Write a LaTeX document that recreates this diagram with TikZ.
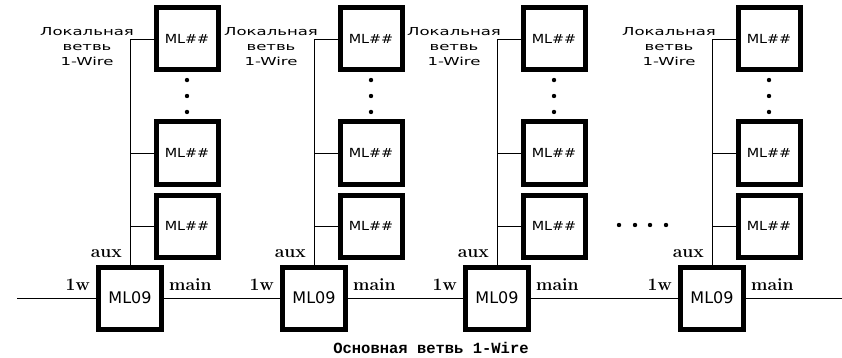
\documentclass[tikz,border=0pt]{standalone}
\usepackage{fontspec}
\setmonofont{Liberation Mono}
\newfontfamily\cadfont{DejaVu Sans}
\newfontfamily\cadmid[FakeStretch=1.15]{DejaVu Sans}
\newfontfamily\cadwide[FakeStretch=1.5]{DejaVu Sans}
\usetikzlibrary{positioning,calc}

\begin{document}
\begin{tikzpicture}[
  x=1pt, y=-1pt,
  modulebox/.style={
    draw,
    line width=5pt,
    inner sep=0pt,
    minimum size=62pt
  },
  hubbox/.style={modulebox,minimum width=63pt,font=\cadfont\fontsize{16}{16}\selectfont},
  leafbox/.style={modulebox,font=\cadmid\fontsize{12.5}{12.5}\selectfont},
  pinlabel/.style={inner sep=0pt,font=\bfseries\fontsize{17.5}{17.5}\selectfont},
  branchlabel/.style={inner sep=0pt,align=center,font=\cadwide\fontsize{11}{15}\selectfont},
  wire/.style={line width=0.8pt}
]
  \useasboundingbox (0,0) rectangle (842,358);

  % main branch modules
  \node[hubbox] (hub1) at (130,298) {ML09};
  \node[hubbox] (hub2) at (314,298) {ML09};
  \node[hubbox] (hub3) at (497,298) {ML09};
  \node[hubbox] (hub4) at (712,298) {ML09};
  \coordinate (start) at (17,298);
  \coordinate (finish) at (842,298);

  % local branch modules
  \node[leafbox,above=5pt of hub1,xshift=57pt] (low1) {ML\#\#};
  \node[leafbox,above=6pt of low1] (mid1) {ML\#\#};
  \node[leafbox,above=47pt of mid1] (top1) {ML\#\#};
  \node[leafbox,above=5pt of hub2,xshift=57pt] (low2) {ML\#\#};
  \node[leafbox,above=6pt of low2] (mid2) {ML\#\#};
  \node[leafbox,above=47pt of mid2] (top2) {ML\#\#};
  \node[leafbox,above=5pt of hub3,xshift=57pt] (low3) {ML\#\#};
  \node[leafbox,above=6pt of low3] (mid3) {ML\#\#};
  \node[leafbox,above=47pt of mid3] (top3) {ML\#\#};
  \node[leafbox,above=5pt of hub4,xshift=57pt] (low4) {ML\#\#};
  \node[leafbox,above=6pt of low4] (mid4) {ML\#\#};
  \node[leafbox,above=47pt of mid4] (top4) {ML\#\#};

  % port labels
  \node[pinlabel,above left=7pt and 8pt of hub1.north] (aux1) {aux};
  \node[pinlabel,above left=7pt and 6pt of hub1.west] (in1) {1w};
  \node[pinlabel,above right=7pt and 5pt of hub1.east] (out1) {main};
  \node[pinlabel,above left=7pt and 8pt of hub2.north] (aux2) {aux};
  \node[pinlabel,above left=7pt and 6pt of hub2.west] (in2) {1w};
  \node[pinlabel,above right=7pt and 5pt of hub2.east] (out2) {main};
  \node[pinlabel,above left=7pt and 8pt of hub3.north] (aux3) {aux};
  \node[pinlabel,above left=7pt and 6pt of hub3.west] (in3) {1w};
  \node[pinlabel,above right=7pt and 5pt of hub3.east] (out3) {main};
  \node[pinlabel,above left=7pt and 8pt of hub4.north] (aux4) {aux};
  \node[pinlabel,above left=7pt and 6pt of hub4.west] (in4) {1w};
  \node[pinlabel,above right=7pt and 5pt of hub4.east] (out4) {main};

  % branch names
  \node[branchlabel] (note1) at ($(hub1.north |- top1.west)+(-43,8)$) {Локальная\\ветвь\\1-Wire};
  \node[branchlabel] (note2) at ($(hub2.north |- top2.west)+(-43,8)$) {Локальная\\ветвь\\1-Wire};
  \node[branchlabel] (note3) at ($(hub3.north |- top3.west)+(-43,8)$) {Локальная\\ветвь\\1-Wire};
  \node[branchlabel] (note4) at ($(hub4.north |- top4.west)+(-43,8)$) {Локальная\\ветвь\\1-Wire};
  \node[font=\ttfamily\bfseries\fontsize{15.5}{15.5}\selectfont] (trunk) at (431,348) {Основная ветвь 1-Wire};

  % main line
  \draw[wire] (start) -- (hub1.west) (hub1.east) -- (hub2.west)
    (hub2.east) -- (hub3.west) (hub3.east) -- (hub4.west) (hub4.east) -- (finish);

  % local lines
  \draw[wire] (hub1.north) -- (hub1.north |- top1.west) -- (top1.west);
  \draw[wire] (hub1.north |- mid1.west) -- (mid1.west);
  \draw[wire] (hub1.north |- low1.west) -- (low1.west);
  \draw[wire] (hub2.north) -- (hub2.north |- top2.west) -- (top2.west);
  \draw[wire] (hub2.north |- mid2.west) -- (mid2.west);
  \draw[wire] (hub2.north |- low2.west) -- (low2.west);
  \draw[wire] (hub3.north) -- (hub3.north |- top3.west) -- (top3.west);
  \draw[wire] (hub3.north |- mid3.west) -- (mid3.west);
  \draw[wire] (hub3.north |- low3.west) -- (low3.west);
  \draw[wire] (hub4.north) -- (hub4.north |- top4.west) -- (top4.west);
  \draw[wire] (hub4.north |- mid4.west) -- (mid4.west);
  \draw[wire] (hub4.north |- low4.west) -- (low4.west);

  % skipped modules
  \fill ($(top1)!0.36!(mid1)$) circle (2.2pt) ($(top1)!0.5!(mid1)$) circle (2.2pt) ($(top1)!0.64!(mid1)$) circle (2.2pt);
  \fill ($(top2)!0.36!(mid2)$) circle (2.2pt) ($(top2)!0.5!(mid2)$) circle (2.2pt) ($(top2)!0.64!(mid2)$) circle (2.2pt);
  \fill ($(top3)!0.36!(mid3)$) circle (2.2pt) ($(top3)!0.5!(mid3)$) circle (2.2pt) ($(top3)!0.64!(mid3)$) circle (2.2pt);
  \fill ($(top4)!0.36!(mid4)$) circle (2.2pt) ($(top4)!0.5!(mid4)$) circle (2.2pt) ($(top4)!0.64!(mid4)$) circle (2.2pt);
  \fill (619,225) circle (2.2pt) (635,225) circle (2.2pt) (650,225) circle (2.2pt) (666,225) circle (2.2pt);
\end{tikzpicture}
\end{document}
